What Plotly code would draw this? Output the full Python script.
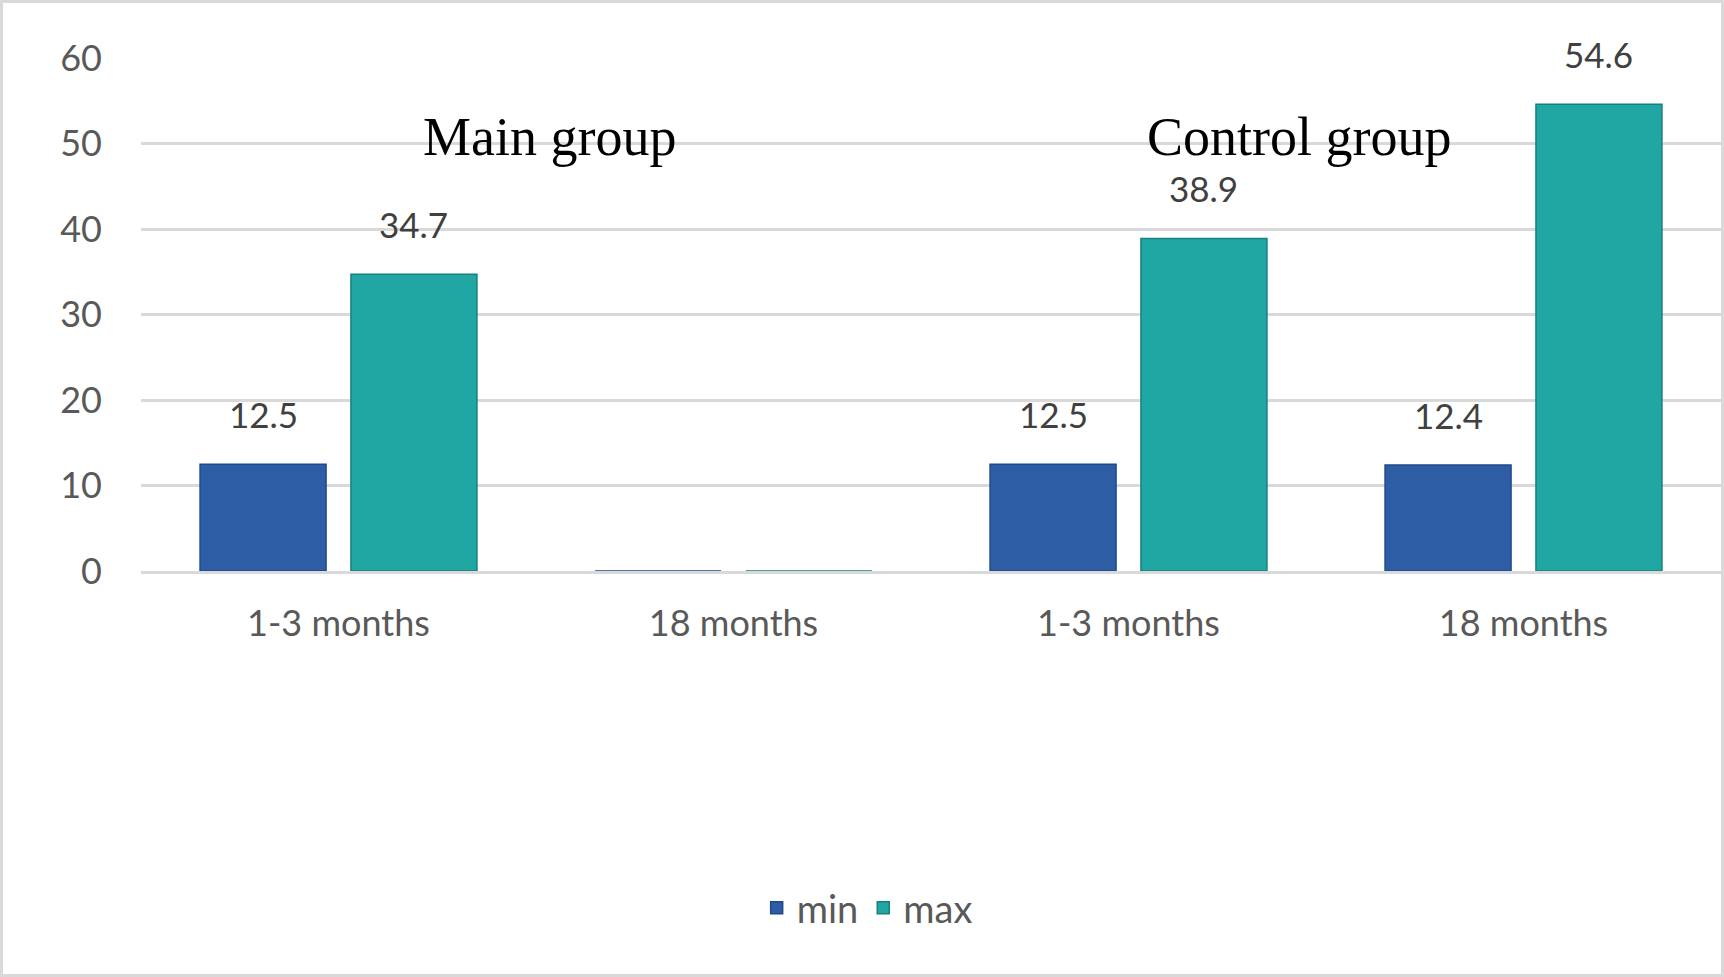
import plotly.graph_objects as go

categories = ["1-3 months", "18 months", "1-3 months", "18 months"]
min_values = [12.5, 0, 12.5, 12.4]
max_values = [34.7, 0, 38.9, 54.6]
group_titles = ["Main group", "Control group"]
y_ticks = [0, 10, 20, 30, 40, 50, 60]

W, H = 1724, 977
ML, MR, MT, MB = 141, 3, 58, 406
BARGAP, GROUPGAP = 0.236, 0.165

x_idx = list(range(len(categories)))

MIN_COLOR = "#2C5DA5"
MAX_COLOR = "#20A6A3"
FONT = "Lato, 'Open Sans', sans-serif"

fig = go.Figure()
fig.add_trace(go.Bar(
    x=x_idx, y=min_values, name="min",
    marker=dict(color=MIN_COLOR, line=dict(color="#1F4A8A", width=1.5)),
))
fig.add_trace(go.Bar(
    x=x_idx, y=max_values, name="max",
    marker=dict(color=MAX_COLOR, line=dict(color="#17807E", width=1.5)),
))

# data labels above bars (omit zeros)
offset = (1 - BARGAP) / 4
for series, sign in ((min_values, -1), (max_values, 1)):
    for i, v in enumerate(series):
        if v == 0:
            continue
        fig.add_annotation(
            x=i + sign * offset, y=v, xref="x", yref="y",
            text=f"{v:g}", showarrow=False, yanchor="middle", yshift=50,
            font=dict(family=FONT, size=35, color="#404040"),
        )

# group titles
for xpos, title in zip([0.533, 2.434], group_titles):
    fig.add_annotation(
        x=xpos, y=50.8, xref="x", yref="y", text=title, showarrow=False,
        yanchor="middle", xanchor="center",
        font=dict(family="'Liberation Serif', 'Times New Roman', serif", size=54, color="#000000"),
    )

pw = W - ML - MR
ph = H - MT - MB
fig.add_shape(
    type="rect", xref="paper", yref="paper",
    x0=(1.5 - ML) / pw, x1=(W - 1.5 - ML) / pw,
    y0=-(H - 1.5 - (MT + ph)) / ph, y1=(MT + ph - 1.5) / ph,
    line=dict(color="#D9D9D9", width=3), fillcolor="rgba(0,0,0,0)", layer="below",
)

fig.update_layout(
    width=W, height=H,
    margin=dict(l=ML, r=MR, t=MT, b=MB, autoexpand=False),
    paper_bgcolor="white", plot_bgcolor="white",
    barmode="group", bargap=BARGAP, bargroupgap=GROUPGAP,
    showlegend=True,
    legend=dict(
        orientation="h", xref="container", yref="container",
        x=0.503, xanchor="center", y=0.0706, yanchor="middle",
        font=dict(family=FONT, size=38, color="#595959"),
        itemclick=False, itemdoubleclick=False,
    ),
    font=dict(family=FONT, color="#595959"),
)
fig.update_xaxes(
    tickmode="array", tickvals=x_idx, ticktext=categories,
    range=[-0.5, len(categories) - 0.5],
    showgrid=False, zeroline=False,
    showline=True, linecolor="#D9D9D9", linewidth=3,
    ticks="", ticklabelstandoff=19,
    tickfont=dict(family=FONT, size=36, color="#595959"),
    automargin=False, fixedrange=True,
)
fig.update_yaxes(
    range=[0, 60], tickmode="array", tickvals=y_ticks,
    showgrid=True, gridcolor="#D9D9D9", gridwidth=2.5,
    zeroline=False, showline=False, ticks="", ticklabelstandoff=38,
    tickfont=dict(family=FONT, size=36, color="#595959"),
    automargin=False, fixedrange=True,
)

fig.write_html("out.html")
